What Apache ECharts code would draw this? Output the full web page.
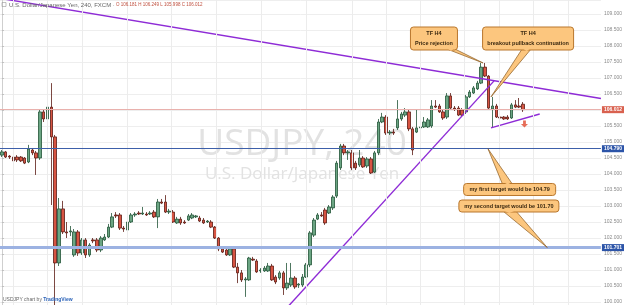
<!DOCTYPE html>
<html><head><meta charset="utf-8">
<script src="https://cdn.jsdelivr.net/npm/echarts/dist/echarts.min.js"></script>
<style>html,body{margin:0;padding:0;background:#fff}#c{width:625px;height:305px}</style>
</head><body><div id="c"></div>
<script>
// ---- data (USDJPY, 240 min candles) ----
const opens = [104.59,104.69,104.56,104.53,104.53,104.53,104.5,104.375,104.75,104.66,104.5,105.94,105.72,106.09,105.16,101.22,102.91,102.19,102.19,101.47,102.19,101.53,101.94,101.47,101.94,101.94,101.625,101.94,102.03,102.34,102.72,102.72,102.31,102.25,102.5,102.72,102.78,102.75,102.75,102.75,102.81,102.66,103.125,103.125,102.81,102.81,102.47,102.59,102.5,102.56,102.625,102.66,102.625,102.56,102.5,102.5,102.34,102.0,101.66,101.625,101.47,101.66,101.09,100.91,100.69,100.69,101.34,101.28,100.97,100.97,100.97,101.125,100.78,100.75,100.91,100.44,100.53,100.75,100.53,100.53,100.78,101.16,102.09,102.59,102.72,102.875,102.78,102.94,103.31,104.19,104.875,104.66,104.66,104.34,104.28,104.5,104.25,104.47,104.06,104.66,105.625,105.78,105.28,105.31,105.44,105.72,105.84,105.94,105.41,105.31,105.44,105.47,105.47,105.5,106.125,106.125,105.94,105.78,106.44,106.06,106.06,106.0,105.94,106.41,106.53,106.66,106.84,107.34,107.06,106.03,106.125,105.78,105.78,105.78,105.75,106.16,106.125,106.181];
const closes = [104.69,104.53,104.53,104.41,104.44,104.41,104.34,104.78,104.66,104.5,105.94,105.72,106.09,105.16,101.22,102.91,102.19,102.16,102.22,102.19,101.53,101.94,101.47,101.78,101.91,101.625,102.0,102.03,102.34,102.66,102.69,102.31,102.28,102.5,102.72,102.75,102.75,102.78,102.72,102.78,102.66,103.125,103.09,102.81,102.84,102.5,102.59,102.47,102.47,102.69,102.72,102.69,102.53,102.47,102.53,102.34,102.0,101.66,101.56,101.47,101.66,101.09,100.91,100.69,100.72,101.375,101.31,100.94,101.0,101.06,101.125,100.69,100.625,100.91,100.44,100.59,100.75,100.47,100.56,100.78,101.16,102.16,102.56,102.72,102.69,102.47,102.97,103.28,104.34,104.875,104.66,104.69,104.19,104.19,104.5,104.22,104.47,104.03,104.66,105.625,105.78,105.28,105.31,105.28,105.72,105.875,105.94,105.41,104.75,105.44,105.47,105.625,105.69,106.125,106.09,105.94,105.75,106.44,106.06,106.03,105.84,105.84,106.41,106.56,106.69,106.84,107.34,107.06,106.06,106.125,105.78,105.75,105.72,105.72,106.16,106.09,106.09,106.012];
const lows = [104.53,104.5,104.47,104.28,104.375,104.375,104.31,104.34,104.59,103.97,104.44,105.625,105.66,103.03,99.0,101.125,102.125,102.0,102.06,101.41,101.44,101.47,101.375,101.41,101.84,101.56,101.56,101.91,102.0,102.31,102.625,102.25,102.19,102.19,102.47,102.66,102.72,102.72,102.69,102.72,102.625,102.31,103.06,102.78,102.75,102.47,102.44,102.41,102.44,102.53,102.59,102.625,102.5,102.44,102.47,102.31,101.97,101.59,101.53,101.44,101.44,101.06,100.59,100.625,100.16,100.66,101.28,100.91,100.91,100.94,100.94,100.66,100.56,100.69,100.22,100.375,100.47,100.41,100.44,100.47,100.75,101.09,102.03,102.56,102.66,102.41,102.75,102.875,103.25,104.125,104.59,104.44,104.125,104.125,104.22,104.19,104.19,104.0,104.03,104.59,105.59,105.22,105.22,105.22,105.375,105.66,105.78,105.34,104.59,105.28,105.375,105.44,105.44,105.44,106.06,105.91,105.69,105.72,106.0,105.97,105.81,105.78,105.875,106.375,106.5,106.625,106.81,107.03,106.0,105.44,105.75,105.625,105.69,105.69,105.72,106.06,106.06,105.94];
const highs = [104.75,104.72,104.59,104.56,104.59,104.56,104.53,104.91,104.81,104.72,106.0,106.0,106.16,106.84,105.22,103.25,103.16,102.5,102.375,102.28,102.25,102.0,102.0,101.84,102.0,102.0,102.06,102.125,102.44,102.78,102.81,102.78,102.375,102.59,102.78,102.81,102.84,102.97,102.81,102.84,102.875,103.22,103.22,103.34,102.91,102.875,102.66,102.66,102.56,102.75,102.78,102.72,102.69,102.625,102.56,102.56,102.375,102.03,101.75,101.69,101.72,101.72,101.22,101.0,100.78,101.41,101.41,101.34,101.06,101.125,101.22,101.19,100.84,100.97,100.97,101.22,101.22,100.81,100.59,100.875,101.22,102.22,102.625,102.78,102.81,102.94,103.03,103.34,104.41,104.94,104.94,104.75,104.75,104.41,104.75,104.56,104.53,104.53,104.72,105.72,105.91,105.84,105.375,105.41,106.31,105.94,106.06,106.0,105.47,106.0,105.56,105.78,105.75,106.31,106.31,106.19,106.0,106.53,106.53,106.125,106.125,106.06,106.47,106.625,106.75,106.91,107.47,107.47,107.09,106.41,106.19,105.84,105.81,105.84,106.22,106.31,106.375,106.249];
const slotCount = 158; // bars + empty right margin
const categories = Array.from({length: slotCount}, (_, i) => 'bar ' + (i + 1));
const yRange = {min: 99.90625, max: 109.4375, step: 0.5};
const lastPrice = 106.012, target1 = 104.790, target2 = 101.701;
// trend lines in [bar index, price]
const resistanceLine = [[-0.5, 109.49], [157.5, 106.36]];
const supportLine = [[75.1, 99.84], [129.4, 106.91]];
const pennantLine = [[128.6, 105.44], [141.4, 105.875]];
const arrowPoint = [[137.4, 105.56]];
const timeGridBars = [2.9, 12, 21, 33, 44.5, 56.3, 68.1, 80.1, 92.1, 101, 110, 121.5, 130.7, 139.8, 149];

const notes = [
  {lines: ['TF H4', 'Price rejection'], at: [113.6, 108.234], w: 47, h: 23, tip: [126.5, 107.47], base: [13, 21], side: 'bottom'},
  {lines: ['TF H4', 'breakout pullback continuation'], at: [138.35, 108.234], w: 91, h: 23, tip: [128.6, 106.41], base: [-6, 3], side: 'bottom'},
  {lines: ['my first target would be 104.79'], at: [133.5, 103.516], w: 92, h: 12, tip: [127.8, 104.79], base: [-7, 3], side: 'top'},
  {lines: ['my second target would be 101.70'], at: [133.3, 103.0], w: 100, h: 12, tip: [143.4, 101.70], base: [-6, 7], side: 'bottom'}
];

const candles = opens.map((o, i) => [o, closes[i], lows[i], highs[i]]);
const chart = echarts.init(document.getElementById('c'), null, {renderer: 'canvas'});
const FONT = 'Liberation Sans, Arial, sans-serif';
const purple = '#8e2bd6';
function trend(data) {
  return {type: 'line', xAxisIndex: 1, yAxisIndex: 0, data: data, showSymbol: false, symbol: 'none', clip: true,
    lineStyle: {color: purple, width: 1.4}, z: 4, silent: true, animation: false};
}
const priceLabel = (txt, bg) => ({show: true, position: 'end', formatter: txt, backgroundColor: bg, color: '#fff',
  fontSize: 5, fontFamily: FONT, padding: [1, 2, 1, 2], distance: 1, fontWeight: 'bold'});

chart.setOption({
  animation: false,
  backgroundColor: '#fff',
  grid: {left: 0, right: 19, top: 0, bottom: 0},
  xAxis: [
    {type: 'category', data: categories, boundaryGap: true, axisLine: {show: false}, axisTick: {show: false}, axisLabel: {show: false}, splitLine: {show: false}},
    {type: 'value', min: -0.5, max: slotCount - 0.5, show: false}
  ],
  yAxis: {type: 'value', position: 'right', min: yRange.min, max: yRange.max, splitNumber: 19,
    minInterval: yRange.step, maxInterval: yRange.step,
    axisLine: {show: true, lineStyle: {color: '#cfcfcf'}},
    axisTick: {show: true, length: 2, lineStyle: {color: '#bdbdbd'}},
    axisLabel: {fontSize: 5, color: '#8a8a8a', margin: 3, fontFamily: FONT, showMinLabel: false, showMaxLabel: false,
      formatter: v => v.toFixed(3)},
    splitLine: {show: true, lineStyle: {color: '#eeeeee', width: 1}}},
  series: [
    {type: 'line', xAxisIndex: 1, yAxisIndex: 0, data: [], z: 1, silent: true,
      markLine: {silent: true, symbol: ['none', 'none'], label: {show: false}, animation: false,
        lineStyle: {color: '#ececec', width: 1, type: 'solid'},
        data: timeGridBars.map(v => ({xAxis: v}))}},
    {type: 'candlestick', xAxisIndex: 0, yAxisIndex: 0, data: candles, barWidth: 3, clip: true, z: 3,
      itemStyle: {color: '#6ba583', color0: '#d75442', borderColor: '#225437', borderColor0: '#5b1a13', borderWidth: 0.8},
      markLine: {silent: true, symbol: ['none', 'none'], animation: false,
        data: [
          {yAxis: lastPrice, lineStyle: {color: '#e9b1ad', width: 1, type: 'solid'}, label: priceLabel('106.012', '#d9614f')},
          {yAxis: target1, lineStyle: {color: '#3d5fa9', width: 1.2, type: 'solid'}, label: priceLabel('104.790', '#2c54a8')},
          {yAxis: target2, lineStyle: {color: '#9cb2e2', width: 3, type: 'solid'}, label: priceLabel('101.701', '#2c54a8')}
        ]}},
    trend(resistanceLine), trend(supportLine), trend(pennantLine),
    {type: 'scatter', xAxisIndex: 1, yAxisIndex: 0, data: arrowPoint, z: 5, silent: true,
      symbol: 'path://M3,0 L7,0 L7,5 L10,5 L5,10 L0,5 L3,5 Z', symbolSize: [7, 7],
      itemStyle: {color: '#e0482e'}}
  ]
});

const g = [];
// watermark
g.push({type: 'text', z: 0, silent: true, style: {text: 'USDJPY, 240', x: 302, y: 144, align: 'center', verticalAlign: 'middle',
  fontSize: 37, fontFamily: 'Open Sans, sans-serif', fill: '#e2e2e2'}});
g.push({type: 'text', z: 0, silent: true, style: {text: 'U.S. Dollar/Japanese Yen', x: 302, y: 174, align: 'center', verticalAlign: 'middle',
  fontSize: 17, fontFamily: 'Open Sans, sans-serif', fill: '#e2e2e2'}});
// header
g.push({type: 'rect', z: 50, shape: {x: 2, y: 2.5, width: 4, height: 4}, style: {fill: 'none', stroke: '#999', lineWidth: 0.6}});
g.push({type: 'text', z: 50, style: {x: 9, y: 5, verticalAlign: 'middle', fontSize: 6, fontFamily: FONT,
  text: '{a|U.S. Dollar/Japanese Yen, 240, FXCM ·}{b| O 106.181 H 106.249 L 105.998 C 106.012}',
  rich: {a: {fontSize: 6, fill: '#666', fontFamily: FONT}, b: {fontSize: 4.5, fill: '#c0503f', fontFamily: FONT}}}});
// footer
g.push({type: 'text', z: 50, style: {x: 3, y: 300, verticalAlign: 'middle', fontSize: 5, fontFamily: FONT,
  text: '{a|USDJPY chart by }{b|TradingView}',
  rich: {a: {fontSize: 5, fill: '#666', fontFamily: FONT}, b: {fontSize: 5, fill: '#2a62b8', fontFamily: FONT, fontWeight: 'bold'}}}});

// callouts
const fillC = '#fcc67e', strokeC = '#b9772d';
notes.forEach((n, k) => {
  const c = chart.convertToPixel({xAxisIndex: 1, yAxisIndex: 0}, n.at);
  const t = chart.convertToPixel({xAxisIndex: 1, yAxisIndex: 0}, n.tip);
  const bx = c[0] - n.w / 2, by = c[1] - n.h / 2;
  const edgeY = n.side === 'bottom' ? by + n.h - 1 : by + 1;
  g.push({type: 'polygon', z: 100, shape: {points: [[c[0] + n.base[0], edgeY], [c[0] + n.base[1], edgeY], t]},
    style: {fill: fillC, stroke: '#8a5a20', lineWidth: 0.7}});
  g.push({type: 'rect', z: 101, shape: {x: bx, y: by, width: n.w, height: n.h, r: 3}, style: {fill: fillC, stroke: strokeC, lineWidth: 1}});
  const s = n.side === 'bottom' ? 1 : -1;
  g.push({type: 'polygon', z: 102, shape: {points: [[c[0] + n.base[0] + 0.6, edgeY - 0.5 * s], [c[0] + n.base[1] - 0.6, edgeY - 0.5 * s], [c[0] + (n.base[0] + n.base[1]) / 2, edgeY + 2 * s]]}, style: {fill: fillC}});
  const lh = 10;
  n.lines.forEach((ln, j) => {
    const yy = c[1] + (j - (n.lines.length - 1) / 2) * lh;
    g.push({type: 'text', z: 103, style: {text: ln, x: c[0], y: yy, align: 'center', verticalAlign: 'middle',
      fontSize: 5.5, fontWeight: 'bold', fontFamily: FONT, fill: '#3a2810'}});
  });
});
chart.setOption({graphic: g});
</script>
</body></html>
